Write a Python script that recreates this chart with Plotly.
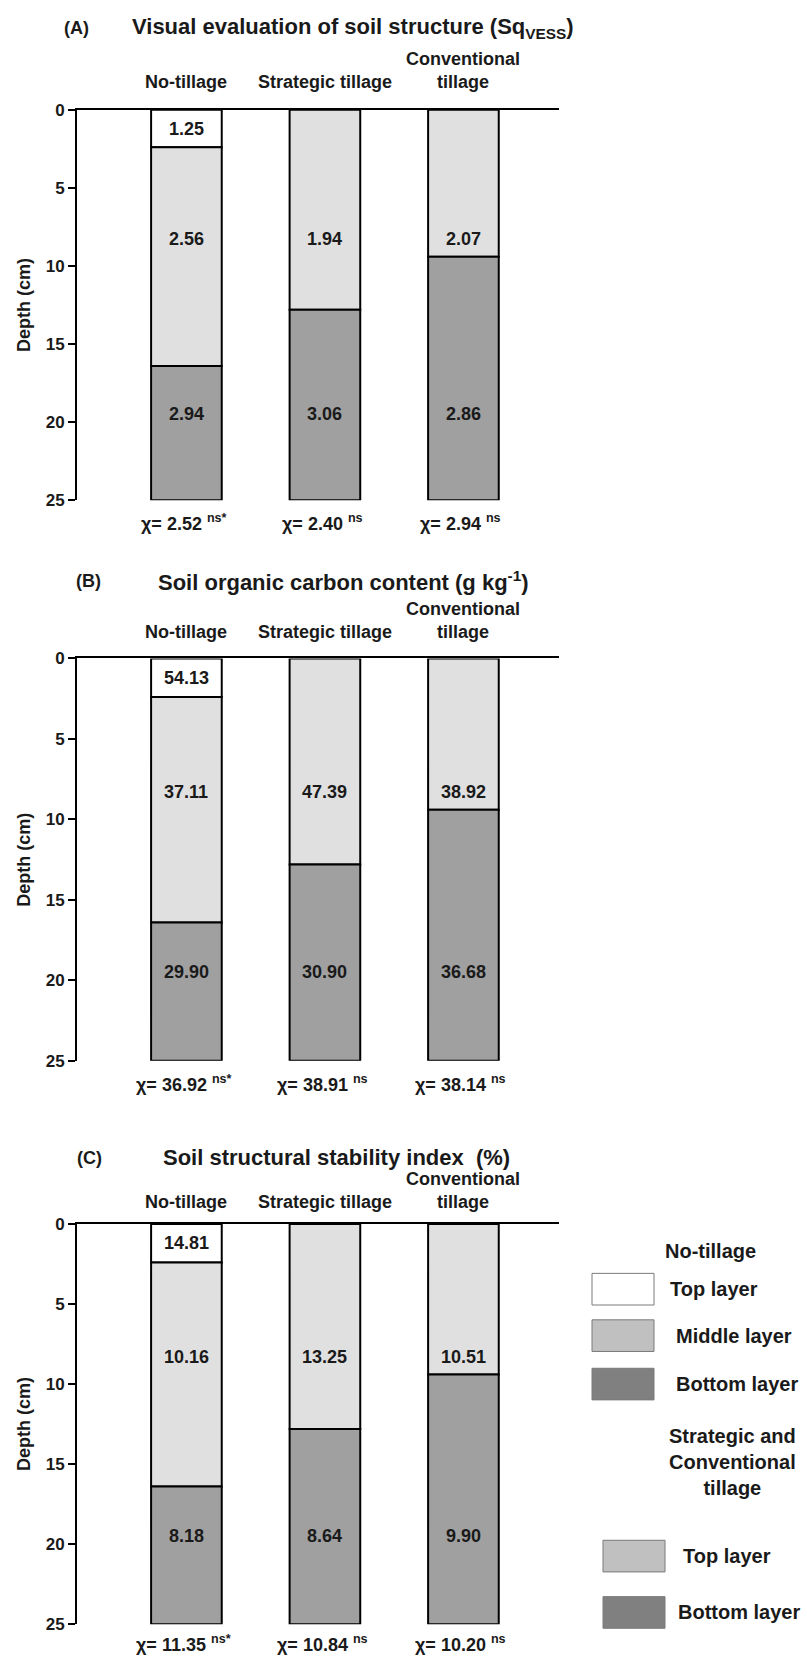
import plotly.graph_objects as go

W, H = 807, 1661

# ---------------- data ----------------
treatments = ["No-tillage", "Strategic tillage", "Conventional<br>tillage"]

# layer boundaries (depth, cm) for each treatment
nt_bounds = [0, 2.4, 16.4, 25]
st_bounds = [0, 12.8, 25]
ct_bounds = [0, 9.4, 25]

# (A) SqVESS
sq_nt = [1.25, 2.56, 2.94]
sq_st = [1.94, 3.06]
sq_ct = [2.07, 2.86]
sq_chi = [2.52, 2.40, 2.94]

# (B) Soil organic carbon
soc_nt = [54.13, 37.11, 29.90]
soc_st = [47.39, 30.90]
soc_ct = [38.92, 36.68]
soc_chi = [36.92, 38.91, 38.14]

# (C) Structural stability index
ssi_nt = [14.81, 10.16, 8.18]
ssi_st = [13.25, 8.64]
ssi_ct = [10.51, 9.90]
ssi_chi = [11.35, 10.84, 10.20]

chi_sig = ["ns*", "ns", "ns"]

depth_ticks = [0, 5, 10, 15, 20, 25]

# ---------------- style ----------------
FONT = "Liberation Sans, Arial, sans-serif"
TXT = "#1a1a1a"
C_TOP_NT = "#ffffff"
C_MID = "#e0e0e0"
C_BOT = "#a0a0a0"
LEG_MID = "#c0c0c0"
LEG_BOT = "#808080"

LBL = 18
TICK = 17
TITLE = 22
LEG = 20

# label depths inside bars
LD_TOP, LD_MID, LD_BOT = 1.2, 8.3, 19.5

# pixel layout of panels
panels_px = [(102, 497), (657, 1064), (1229, 1634)]   # y of depth 0 / depth 25
title_y_px = [19, 579, 1162]
title_cx_px = [353, 343, 336]
tag_x_px = [62, 74, 75]
cat_shift = [16, 14, 10]
chi_shift = [-9, -9, -6]
X0_PX, X1_PX = 77, 559
XR = [-0.79, 2.69]
BAR_W = 0.51


def py(p):
    return 1 - p / H


def px(p):
    return p / W


fig = go.Figure()

panel_data = [
    ("(A)", "Visual evaluation of soil structure (Sq<sub>VESS</sub>)", sq_nt, sq_st, sq_ct, sq_chi),
    ("(B)", "Soil organic carbon content (g kg<sup>-1</sup>)", soc_nt, soc_st, soc_ct, soc_chi),
    ("(C)", "Soil structural stability index  (%)", ssi_nt, ssi_st, ssi_ct, ssi_chi),
]

annotations = []
shapes = []

for i, (tag, title, v_nt, v_st, v_ct, chi) in enumerate(panel_data):
    n = "" if i == 0 else str(i + 1)
    xa, ya = "x" + n, "y" + n
    top_px, bot_px = panels_px[i]

    layers = [
        (0, nt_bounds, [C_TOP_NT, C_MID, C_BOT], v_nt, [LD_TOP, LD_MID, LD_BOT]),
        (1, st_bounds, [C_MID, C_BOT], v_st, [LD_MID, LD_BOT]),
        (2, ct_bounds, [C_MID, C_BOT], v_ct, [LD_MID, LD_BOT]),
    ]
    for xi, bounds, cols, vals, lds in layers:
        for k in range(len(bounds) - 1):
            fig.add_trace(go.Bar(
                x=[xi], y=[bounds[k + 1] - bounds[k]], base=[bounds[k]],
                width=BAR_W, marker=dict(color=cols[k], line=dict(color="black", width=2)),
                xaxis=xa, yaxis=ya, showlegend=False, hoverinfo="skip",
            ))
            annotations.append(dict(
                x=xi, y=lds[k], xref=xa, yref=ya, text="<b>%.2f</b>" % vals[k],
                showarrow=False, font=dict(family=FONT, size=LBL, color=TXT),
            ))
        # treatment label above
        annotations.append(dict(
            x=xi, y=0, xref=xa, yref=ya, text="<b>%s</b>" % treatments[xi],
            showarrow=False, yanchor="bottom", yshift=cat_shift[i],
            font=dict(family=FONT, size=LBL, color=TXT),
        ))
        # chi label below
        annotations.append(dict(
            x=xi - 0.02, y=25, xref=xa, yref=ya,
            text="<b>χ= %.2f <sup>%s</sup></b>" % (chi[xi], chi_sig[xi]),
            showarrow=False, yanchor="top", yshift=chi_shift[i],
            font=dict(family=FONT, size=LBL, color=TXT),
        ))

    # panel tag and title
    annotations.append(dict(
        x=px(tag_x_px[i]), y=py(title_y_px[i]), xref="paper", yref="paper",
        text="<b>%s</b>" % tag, showarrow=False, xanchor="left", yanchor="middle",
        font=dict(family=FONT, size=LBL, color=TXT),
    ))
    annotations.append(dict(
        x=px(title_cx_px[i]), y=py(title_y_px[i]), xref="paper", yref="paper",
        text="<b>%s</b>" % title, showarrow=False, xanchor="center", yanchor="middle",
        font=dict(family=FONT, size=TITLE, color=TXT),
    ))

    fig.update_layout(**{
        "xaxis" + n: dict(
            domain=[px(X0_PX), px(X1_PX)], range=XR, side="top", anchor=ya,
            showline=True, linewidth=2, linecolor="black", showticklabels=False,
            ticks="", showgrid=False, zeroline=False, fixedrange=True,
        ),
        "yaxis" + n: dict(
            domain=[py(bot_px), py(top_px)], range=[25, 0], anchor=xa,
            tickvals=depth_ticks, ticktext=["<b>%d</b>" % t for t in depth_ticks],
            ticks="outside", ticklen=7, tickwidth=2, tickcolor="black",
            showline=True, linewidth=2, linecolor="black", showgrid=False,
            zeroline=False, tickfont=dict(family=FONT, size=TICK, color=TXT),
            title=dict(text="<b>Depth (cm)</b>", font=dict(family=FONT, size=LBL, color=TXT),
                       standoff=10),
            fixedrange=True,
        ),
    })

# ---------------- custom legend ----------------
def leg_box(x0, y0, x1, y1, color):
    shapes.append(dict(type="rect", xref="paper", yref="paper",
                       x0=px(x0), x1=px(x1), y0=py(y1), y1=py(y0),
                       fillcolor=color, line=dict(color="#7a7a7a", width=1)))


def leg_text(x, y, text, anchor="left"):
    annotations.append(dict(x=px(x), y=py(y), xref="paper", yref="paper",
                            text="<b>%s</b>" % text, showarrow=False,
                            xanchor=anchor, yanchor="middle",
                            font=dict(family=FONT, size=LEG, color=TXT)))


leg_text(710, 1256, "No-tillage", "center")
leg_box(592, 1279, 654, 1311, C_TOP_NT)
leg_text(668, 1295, "Top layer")
leg_box(592, 1326, 654, 1358, LEG_MID)
leg_text(674, 1342, "Middle layer")
leg_box(592, 1375, 654, 1407, LEG_BOT)
leg_text(674, 1391, "Bottom layer")
leg_text(732, 1470, "Strategic and<br>Conventional<br>tillage", "center")
leg_box(603, 1549, 665, 1581, LEG_MID)
leg_text(681, 1565, "Top layer")
leg_box(603, 1606, 665, 1638, LEG_BOT)
leg_text(676, 1622, "Bottom layer")

fig.update_layout(
    width=W, height=H, margin=dict(l=0, r=0, t=0, b=0),
    paper_bgcolor="white", plot_bgcolor="white",
    barmode="overlay", showlegend=False,
    annotations=annotations, shapes=shapes,
    font=dict(family=FONT, color=TXT),
)

fig.write_html("out.html")
